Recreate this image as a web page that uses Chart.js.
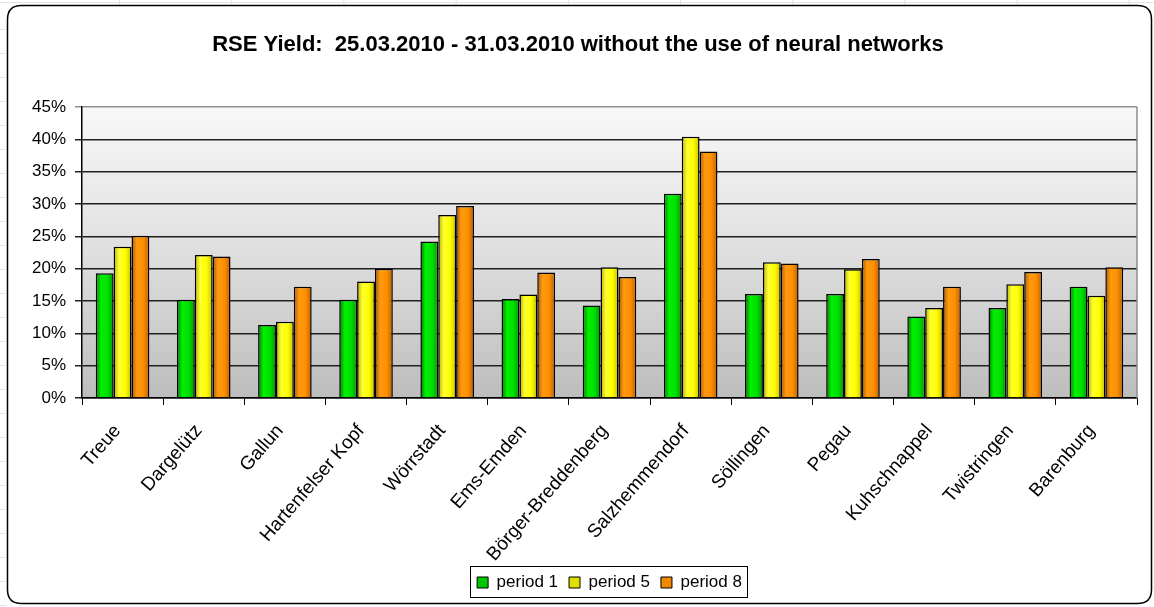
<!DOCTYPE html>
<html>
<head>
<meta charset="utf-8">
<title>RSE Yield</title>
<script src="https://cdn.jsdelivr.net/npm/chart.js@4.4.1/dist/chart.umd.min.js"></script>
<style>
  html, body { margin: 0; padding: 0; background: #ffffff; }
  #wrap { width: 1154px; height: 607px; }
</style>
</head>
<body>
<div id="wrap"><canvas id="c" width="1154" height="607"></canvas></div>
<script>
// Wind farm sites (categories)
const sites = ['Treue', 'Dargelütz', 'Gallun', 'Hartenfelser Kopf', 'Wörrstadt', 'Ems-Emden',
  'Börger-Breddenberg', 'Salzhemmendorf', 'Söllingen', 'Pegau', 'Kuhschnappel', 'Twistringen', 'Barenburg'];

// RSE yield per site, in percent
const period1 = [19.3, 15.2, 11.3, 15.2, 24.2, 15.3, 14.3, 31.6, 16.1, 16.1, 12.6, 13.9, 17.2];
const period5 = [23.4, 22.1, 11.8, 18.0, 28.3, 16.0, 20.2, 40.4, 21.0, 19.9, 13.9, 17.6, 15.8];
const period8 = [25.1, 21.9, 17.2, 20.0, 29.7, 19.4, 18.7, 38.1, 20.8, 21.5, 17.2, 19.5, 20.2];

const seriesNames = ['period 1', 'period 5', 'period 8'];
const yMin = 0, yMax = 45, yStep = 5;

const FONT = '"Liberation Sans", Arial, sans-serif';
Chart.defaults.font.family = FONT;
Chart.defaults.color = '#000';

const CAT_PCT = 0.66;

// Horizontal shading across each bar (dark edge, bright body)
const shades = [
  [[0, '#007a00'], [0.3, '#00f000'], [0.65, '#00e000'], [1, '#009a00']],
  [[0, '#b8b000'], [0.3, '#ffff30'], [0.65, '#ffff00'], [1, '#c8c000']],
  [[0, '#b05800'], [0.3, '#ff9a10'], [0.65, '#ff9000'], [1, '#c06000']]
];
const legendFill = ['#00c800', '#e0e000', '#f08800'];

function barFill(stops) {
  return (ctx) => {
    const chart = ctx.chart;
    const xs = chart.scales.x;
    if (!xs || ctx.type !== 'data' || !chart.chartArea) return stops[2][1];
    const cw = xs.width / sites.length;
    const gw = cw * CAT_PCT;
    const bw = gw / 3;
    const left = xs.getPixelForValue(ctx.dataIndex) - gw / 2 + ctx.datasetIndex * bw;
    const g = chart.ctx.createLinearGradient(left, 0, left + bw, 0);
    stops.forEach(([o, c]) => g.addColorStop(o, c));
    return g;
  };
}

// Frame, faint sheet lines and plot-area backdrop
const backdrop = {
  id: 'backdrop',
  beforeDraw(chart) {
    const c = chart.ctx;
    const { left, top, right, bottom } = chart.chartArea;
    c.save();
    c.fillStyle = '#ffffff';
    c.fillRect(0, 0, chart.width, chart.height);

    // faint worksheet cell lines around the chart object
    c.strokeStyle = '#e4e4e4';
    c.lineWidth = 1;
    c.beginPath();
    c.moveTo(0, 2.5); c.lineTo(chart.width, 2.5);
    for (let x = 119.5; x < chart.width; x += 112.2) { c.moveTo(x, 0); c.lineTo(x, 8); }
    for (let y = 29.5; y < chart.height; y += 24) { c.moveTo(0, y); c.lineTo(6, y); }
    c.stroke();

    // rounded chart frame
    const fx = 7.5, fy = 5.5, fw = 1144, fh = 598, r = 14;
    c.beginPath();
    c.moveTo(fx + r, fy);
    c.lineTo(fx + fw - r, fy);
    c.quadraticCurveTo(fx + fw, fy, fx + fw, fy + r);
    c.lineTo(fx + fw, fy + fh - r);
    c.quadraticCurveTo(fx + fw, fy + fh, fx + fw - r, fy + fh);
    c.lineTo(fx + r, fy + fh);
    c.quadraticCurveTo(fx, fy + fh, fx, fy + fh - r);
    c.lineTo(fx, fy + r);
    c.quadraticCurveTo(fx, fy, fx + r, fy);
    c.closePath();
    c.fillStyle = '#ffffff';
    c.fill();
    c.strokeStyle = '#000000';
    c.lineWidth = 1.5;
    c.stroke();

    // plot area gradient
    const g = c.createLinearGradient(0, top, 0, bottom);
    g.addColorStop(0, '#f8f8f8');
    g.addColorStop(0.45, '#e2e2e2');
    g.addColorStop(1, '#bdbdbd');
    c.fillStyle = g;
    c.fillRect(left, top, right - left, bottom - top);
    c.restore();
  },
  beforeDatasetsDraw(chart) {
    const c = chart.ctx;
    const { top, right, bottom } = chart.chartArea;
    c.save();
    c.strokeStyle = '#8c8c8c';
    c.lineWidth = 1.5;
    c.beginPath();
    c.moveTo(right, top);
    c.lineTo(right, bottom);
    c.stroke();
    c.restore();
  }
};

// Box around the legend entries
const legendBox = {
  id: 'legendBox',
  afterDraw(chart) {
    const boxes = chart.legend && chart.legend.legendHitBoxes;
    if (!boxes || !boxes.length) return;
    let l = Infinity, r = -Infinity, t = Infinity, b = -Infinity;
    boxes.forEach(h => {
      l = Math.min(l, h.left); r = Math.max(r, h.left + h.width);
      t = Math.min(t, h.top); b = Math.max(b, h.top + h.height);
    });
    const c = chart.ctx;
    c.save();
    c.strokeStyle = '#000';
    c.lineWidth = 1;
    c.strokeRect(Math.round(l - 7) + 0.5, Math.round(t - 8) + 0.5, Math.round(r - l + 12), Math.round(b - t + 14));
    c.restore();
  }
};

new Chart(document.getElementById('c'), {
  type: 'bar',
  data: {
    labels: sites,
    datasets: [period1, period5, period8].map((vals, i) => ({
      label: seriesNames[i],
      data: vals,
      backgroundColor: barFill(shades[i]),
      borderColor: '#000',
      borderWidth: 1.5,
      barPercentage: 1,
      categoryPercentage: CAT_PCT
    }))
  },
  options: {
    responsive: false,
    animation: false,
    devicePixelRatio: 1,
    layout: { padding: { left: 19, right: 17, top: 0, bottom: 6 } },
    plugins: {
      title: {
        display: true,
        text: 'RSE Yield:  25.03.2010 - 31.03.2010 without the use of neural networks',
        color: '#000',
        font: { size: 22, weight: 'bold', family: FONT },
        padding: { top: 32, bottom: 48.6 }
      },
      legend: {
        position: 'bottom',
        fullSize: false,
        labels: {
          font: { size: 17, family: FONT },
          color: '#000',
          boxWidth: 11,
          boxHeight: 11,
          padding: 11,
          generateLabels: () => seriesNames.map((n, i) => ({
            text: n, fillStyle: legendFill[i], strokeStyle: '#000', lineWidth: 1,
            datasetIndex: i, hidden: false
          }))
        }
      },
      tooltip: { enabled: false }
    },
    scales: {
      x: {
        grid: { offset: true, drawOnChartArea: false, drawTicks: true, tickLength: 7, color: '#000', lineWidth: 1 },
        border: { color: '#000', width: 1.5 },
        ticks: { minRotation: 49, maxRotation: 49, autoSkip: false, padding: 15, labelOffset: -5, font: { size: 19 }, color: '#000' },
        afterFit: (s) => { s.height = 165; }
      },
      y: {
        min: yMin, max: yMax,
        ticks: { stepSize: yStep, padding: 9, font: { size: 17 }, color: '#000', callback: (v) => v + '%' },
        grid: {
          color: (ctx) => ctx.tick && ctx.tick.value === yMax ? '#909090' : '#202020',
          lineWidth: 1.5,
          tickLength: 7
        },
        border: { color: '#000', width: 1.5 },
        afterFit: (s) => { s.width = 63; }
      }
    }
  },
  plugins: [backdrop, legendBox]
});
</script>
</body>
</html>
